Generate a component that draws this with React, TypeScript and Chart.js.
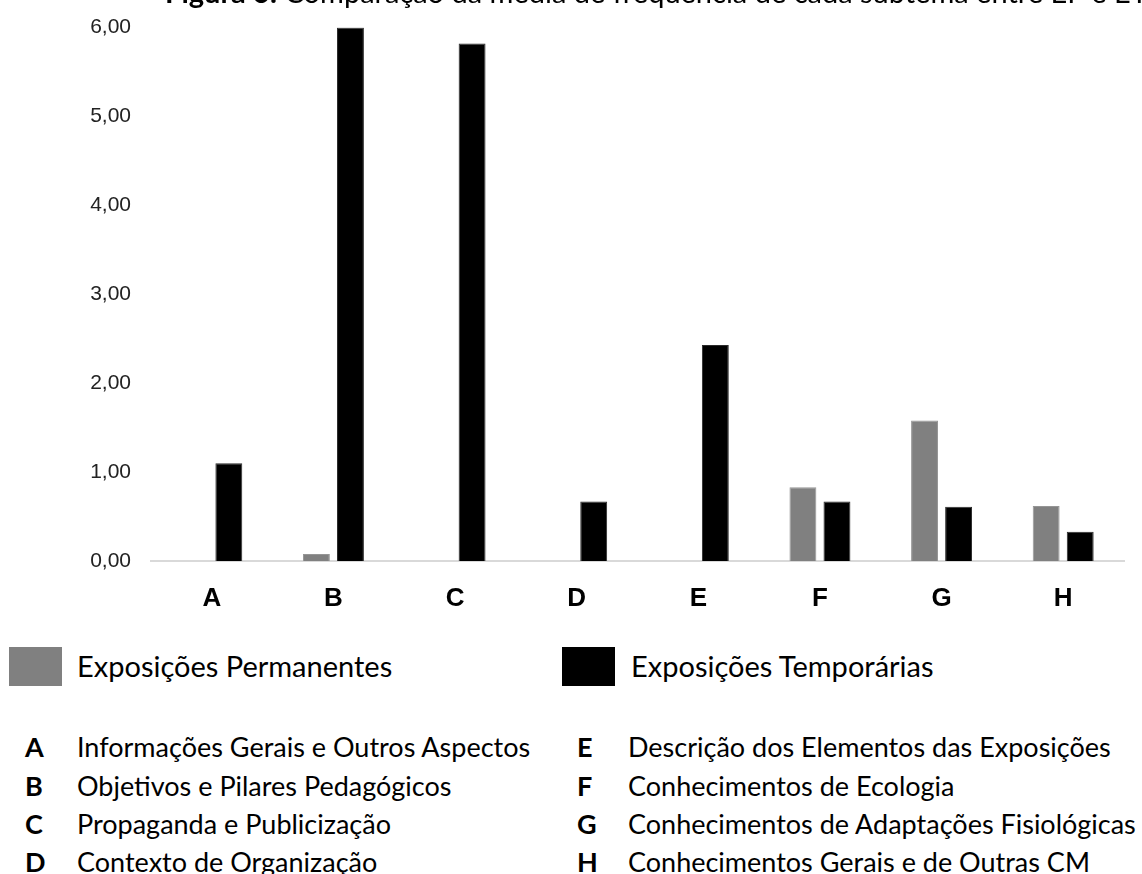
import React, { useEffect, useRef } from "react";
import { Chart, registerables } from "chart.js";

Chart.register(...registerables);

const categories = ["A", "B", "C", "D", "E", "F", "G", "H"];
const permanentValues = [0, 0.08, 0, 0, 0, 0.83, 1.58, 0.62];
const temporaryValues = [1.1, 6.0, 5.82, 0.67, 2.43, 0.67, 0.61, 0.33];
const seriesNames = ["Exposições Permanentes", "Exposições Temporárias"];
const yTicks = [0, 1, 2, 3, 4, 5, 6];
const keyLeft = [
  ["A", "Informações Gerais e Outros Aspectos"],
  ["B", "Objetivos e Pilares Pedagógicos"],
  ["C", "Propaganda e Publicização"],
  ["D", "Contexto de Organização"],
];
const keyRight = [
  ["E", "Descrição dos Elementos das Exposições"],
  ["F", "Conhecimentos de Ecologia"],
  ["G", "Conhecimentos de Adaptações Fisiológicas"],
  ["H", "Conhecimentos Gerais e de Outras CM"],
];
const titleBold = "Figura 6:";
const titleRest = " Comparação da média de frequência de cada subtema entre EP e ET";

const GRAY = "#808080";
const BLACK = "#000000";
const TEXT_FONT = "Lato, 'Open Sans', sans-serif";
const CANVAS_H = 635;
const CANVAS_TOP = -5;

export default function App() {
  const canvasRef = useRef<HTMLCanvasElement | null>(null);

  useEffect(() => {
    if (!canvasRef.current) return;
    const chart = new Chart(canvasRef.current, {
      type: "bar",
      data: {
        labels: categories,
        datasets: [
          {
            label: seriesNames[0],
            data: permanentValues,
            backgroundColor: GRAY,
            borderColor: "#959595",
            borderWidth: 1,
            categoryPercentage: 0.56,
            barPercentage: 0.79,
          },
          {
            label: seriesNames[1],
            data: temporaryValues,
            backgroundColor: BLACK,
            borderColor: "#2a2a2a",
            borderWidth: 1,
            categoryPercentage: 0.56,
            barPercentage: 0.79,
          },
        ],
      },
      options: {
        animation: false,
        responsive: false,
        maintainAspectRatio: false,
        layout: { padding: { left: 0, right: 18, top: 10, bottom: 0 } },
        plugins: {
          legend: { display: false },
          title: { display: false },
          tooltip: { enabled: false },
        },
        scales: {
          x: {
            grid: { display: false, drawTicks: false },
            border: { display: true, color: "#d9d9d9", width: 2 },
            ticks: {
              color: "#000",
              font: { family: "'Liberation Sans', Arial, sans-serif", size: 26, weight: "bold" },
              padding: 22,
            },
            afterFit: (scale: any) => {
              scale.height = 69;
            },
          },
          y: {
            min: 0,
            max: 6,
            afterBuildTicks: (scale: any) => {
              scale.ticks = yTicks.map((v) => ({ value: v }));
            },
            grid: { display: false, drawTicks: false },
            border: { display: false },
            ticks: {
              color: "#222",
              font: { family: "'Liberation Sans', Arial, sans-serif", size: 21 },
              padding: 20,
              callback: (v: any) => Number(v).toFixed(2).replace(".", ","),
            },
            afterFit: (scale: any) => {
              scale.width = 151;
            },
          },
        },
      },
    });
    return () => chart.destroy();
  }, []);

  const rowCenters = [747, 786, 824, 862];
  const textStyle = (left: number, center: number, size: number, bold = false): React.CSSProperties => ({
    position: "absolute",
    left,
    top: center - 16,
    lineHeight: "32px",
    fontSize: size,
    fontFamily: TEXT_FONT,
    fontWeight: bold ? 700 : 400,
    color: "#000",
    whiteSpace: "nowrap",
  });

  return (
    <div
      style={{
        position: "absolute",
        left: 0,
        top: 0,
        width: 1142,
        height: 874,
        overflow: "hidden",
        background: "#fff",
      }}
    >
      <canvas
        ref={canvasRef}
        width={1142}
        height={CANVAS_H}
        style={{ position: "absolute", left: 0, top: CANVAS_TOP, width: 1142, height: CANVAS_H }}
      />
      <div
        style={{
          position: "absolute",
          left: 165,
          top: -23,
          lineHeight: "30px",
          fontSize: 29,
          fontFamily: TEXT_FONT,
          whiteSpace: "nowrap",
          color: "#000",
        }}
      >
        <b>{titleBold}</b>
        {titleRest}
      </div>
      <div style={{ position: "absolute", left: 9, top: 647, width: 53, height: 39, background: GRAY }} />
      <div style={textStyle(77, 666, 29)}>{seriesNames[0]}</div>
      <div style={{ position: "absolute", left: 562, top: 647, width: 53, height: 39, background: BLACK }} />
      <div style={textStyle(631, 666, 29)}>{seriesNames[1]}</div>
      {keyLeft.map(([k, t], i) => (
        <React.Fragment key={k}>
          <div style={textStyle(25, rowCenters[i], 27, true)}>{k}</div>
          <div style={textStyle(77, rowCenters[i], 27)}>{t}</div>
        </React.Fragment>
      ))}
      {keyRight.map(([k, t], i) => (
        <React.Fragment key={k}>
          <div style={textStyle(577, rowCenters[i], 27, true)}>{k}</div>
          <div style={textStyle(628, rowCenters[i], 27)}>{t}</div>
        </React.Fragment>
      ))}
    </div>
  );
}
